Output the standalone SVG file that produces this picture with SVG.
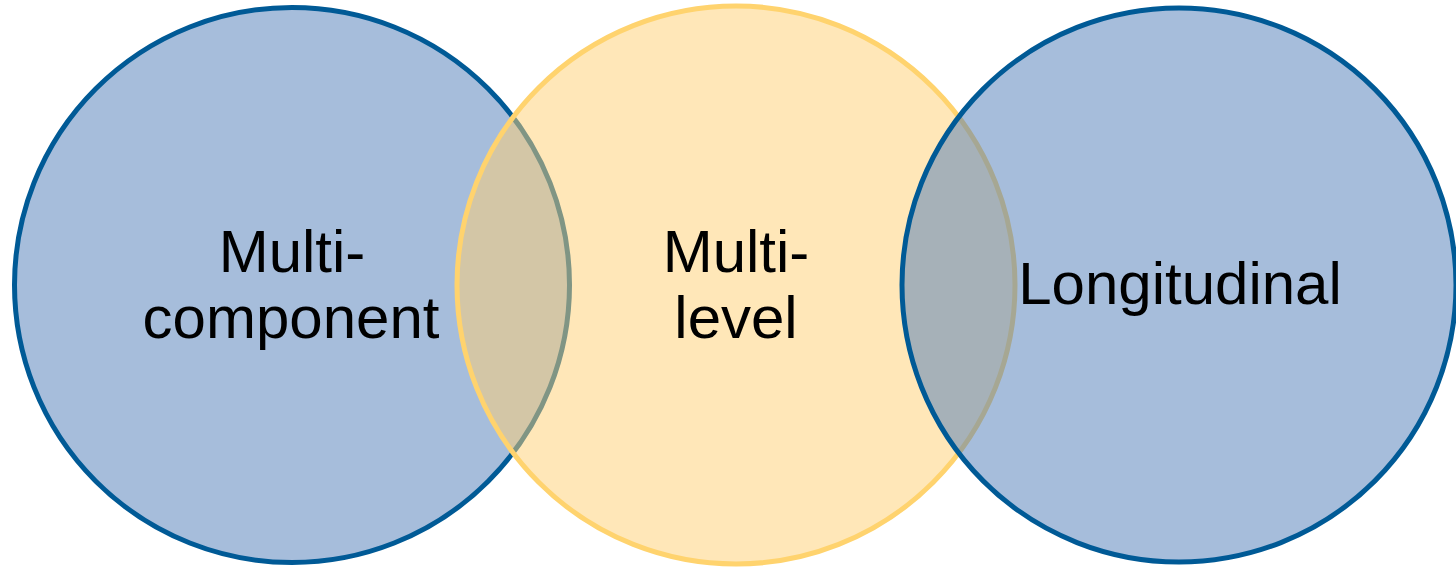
<svg xmlns="http://www.w3.org/2000/svg" width="1456" height="567" viewBox="0 0 1456 567">
<style>
.blue{fill:#4D7BB7;fill-opacity:0.5;stroke:#005A96;stroke-width:5}
.yellow{fill:#FFCF71;fill-opacity:0.5;stroke:#FFD36E;stroke-width:5}
.lbl{font-family:"Liberation Sans",Arial,sans-serif;font-size:60px;fill:#000;text-anchor:middle}
</style>
<rect width="1456" height="567" fill="#fff"/>
<g id="multicomponent">
<circle class="blue" cx="292" cy="285" r="277.5"/>
</g>
<g id="multilevel">
<circle class="yellow" cx="736" cy="285" r="279"/>
</g>
<g id="longitudinal">
<circle class="blue" cx="1179" cy="285" r="277"/>
</g>
<g id="labels">
<text class="lbl" x="292" y="272">Multi-</text>
<text class="lbl" x="291" y="338">component</text>
<text class="lbl" x="736" y="272">Multi-</text>
<text class="lbl" x="736" y="338">level</text>
<text class="lbl" x="1180" y="304">Longitudinal</text>
</g>
<g id="connectors"></g>
</svg>
